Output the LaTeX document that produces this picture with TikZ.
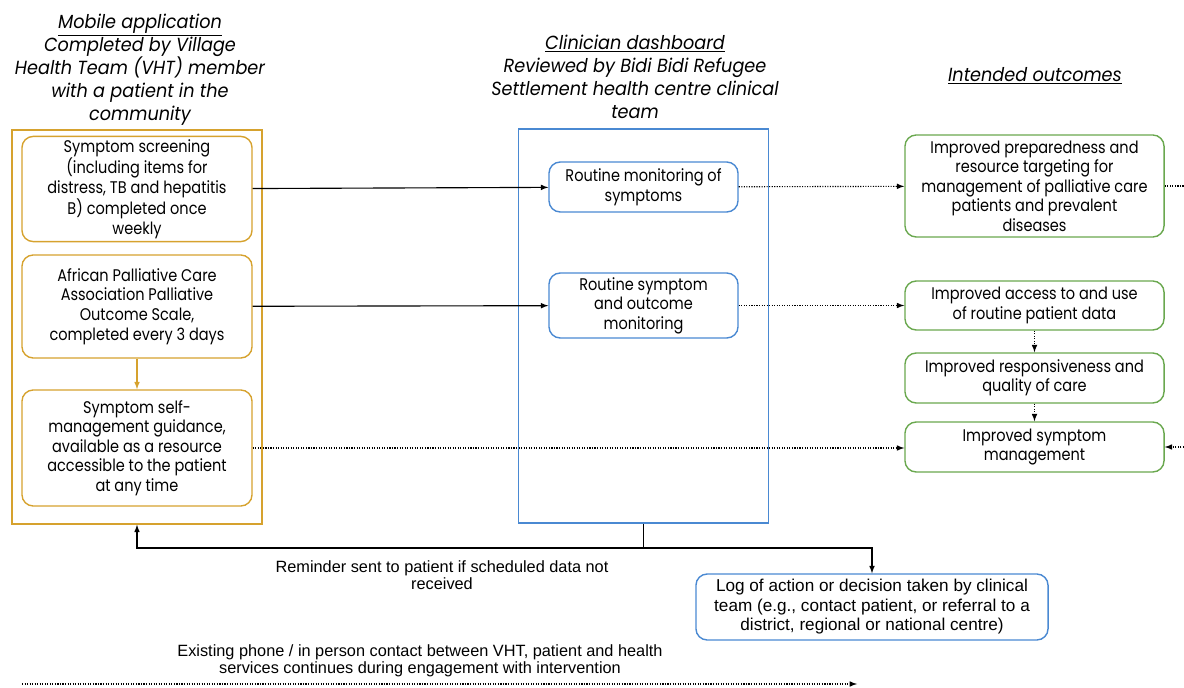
\documentclass[tikz,border=0pt]{standalone}
\usepackage{fontspec}
\setmainfont{Poppins}[FakeStretch=0.86]
\newfontfamily\headfont{Poppins}[FakeStretch=0.93]
\newfontfamily\notefont{Liberation Sans}
\definecolor{appgold}{HTML}{D6A22E}
\definecolor{dashblue}{HTML}{4A89D2}
\definecolor{outgreen}{HTML}{6AA84F}
\begin{document}
\begin{tikzpicture}[x=0.025cm, y=-0.025cm, >=latex, every node/.style={font=\fontsize{12}{13.9}\selectfont}]
  \tikzstyle{panel}=[draw,line width=1pt,minimum width=6.25cm,minimum height=9.85cm]
  \tikzstyle{q}=[draw,rounded corners=8pt,line width=1pt,align=center,inner sep=2pt]
  \tikzstyle{head}=[align=center,font=\fontsize{13.5}{16.4}\selectfont\headfont\itshape]
  \tikzstyle{note}=[align=center,font=\fontsize{11.6}{12.4}\selectfont\notefont]
  \useasboundingbox (0,0) rectangle (1184,688);
  % column headings
  \node[head] (apphead) at (140,70) {\underline{Mobile application}\\Completed by Village\\Health Team (VHT) member\\with a patient in the\\community};
  \node[head] (dashhead) at (635,77) {\underline{Clinician dashboard}\\Reviewed by Bidi Bidi Refugee\\Settlement health centre clinical\\team};
  \node[head] (outhead) at (1035,76) {\underline{Intended outcomes}};
  % mobile application
  \node[panel,appgold] (app) at (137,327) {};
  \node[q,appgold,text=black,minimum width=5.75cm,minimum height=2.5cm] (screen) at (137,189) {Symptom screening\\(including items for\\distress, TB and hepatitis\\B) completed once\\weekly};
  \node[q,appgold,text=black,minimum width=5.75cm,minimum height=2.575cm] (apca) at (137,306.5) {African Palliative Care\\Association Palliative\\Outcome Scale,\\completed every 3 days};
  \node[q,appgold,text=black,minimum width=5.75cm,minimum height=2.9cm] (selfman) at (137,448) {Symptom self-\\management guidance,\\available as a resource\\accessible to the patient\\at any time};
  % clinician dashboard
  \node[panel,dashblue] (dash) at (643.5,326) {};
  \node[q,dashblue,text=black,minimum width=4.725cm,minimum height=1.25cm] (monitor) at (643.5,187) {Routine monitoring of\\symptoms};
  \node[q,dashblue,text=black,minimum width=4.725cm,minimum height=1.625cm] (outcome) at (643.5,305.5) {Routine symptom\\and outcome\\monitoring};
  \node[q,dashblue,text=black,minimum width=8.8cm,minimum height=1.65cm,font=\fontsize{12.2}{13.9}\selectfont\notefont] (log) at (872,607) {Log of action or decision taken by clinical\\team (e.g., contact patient, or referral to a\\district, regional or national centre)};
  % intended outcomes
  \node[q,outgreen,text=black,minimum width=6.475cm,minimum height=2.55cm] (prep) at (1034.5,186) {Improved preparedness and\\resource targeting for\\management of palliative care\\patients and prevalent\\diseases};
  \node[q,outgreen,text=black,minimum width=6.475cm,minimum height=1.225cm] (access) at (1034.5,305.5) {Improved access to and use\\of routine patient data};
  \node[q,outgreen,text=black,minimum width=6.475cm,minimum height=1.25cm] (respond) at (1034.5,378) {Improved responsiveness and\\quality of care};
  \node[q,outgreen,text=black,minimum width=6.475cm,minimum height=1.25cm] (symman) at (1034.5,447) {Improved symptom\\management};
  % free ends
  \coordinate (split) at (643.5,548);
  \coordinate (loopout) at (1184,186);
  \coordinate (loopin) at (1184,447);
  \coordinate (vhtstart) at (22,684);
  \coordinate (vhtend) at (857,684);
  % connectors
  \draw[->,thick] (screen) -- (monitor);
  \draw[->,thick] (apca) -- (outcome);
  \draw[->,thick,appgold] (apca) -- (selfman);
  \draw[->,densely dotted,thick] (monitor) -- (prep);
  \draw[->,densely dotted,thick] (outcome) -- (access);
  \draw[->,densely dotted,thick] (selfman.east) -- (selfman.east -| symman.west);
  \draw[->,densely dotted,thick] (access) -- (respond);
  \draw[->,densely dotted,thick] (respond) -- (symman);
  \draw[densely dotted,thick] (prep) -- (loopout);
  \draw[->,densely dotted,thick] (loopin) -- (symman);
  \draw[thick] (dash) -- (split);
  \draw[->,thick] (split) -| (app);
  \draw[->,thick] (split) -| (log);
  \node[note] (remind) at (442,575) {Reminder sent to patient if scheduled data not\\received};
  \node[note] (existing) at (420,661) {Existing phone / in person contact between VHT, patient and health\\services continues during engagement with intervention};
  \draw[->,densely dotted,thick] (vhtstart) -- (vhtend);
\end{tikzpicture}
\end{document}
